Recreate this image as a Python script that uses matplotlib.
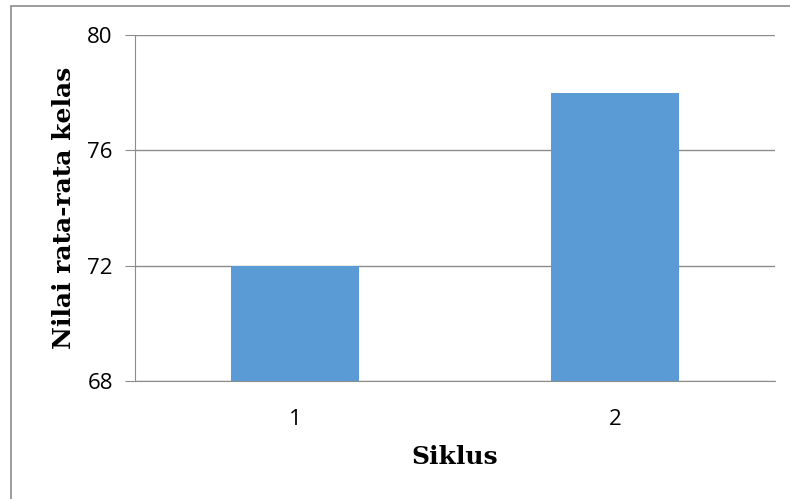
import matplotlib.pyplot as plt
from matplotlib.patches import Rectangle

siklus = ["1", "2"]
nilai = [72, 78]
yticks = [68, 72, 76, 80]

fig = plt.figure(figsize=(7.9, 4.99), dpi=100)
ax = fig.add_axes([0.1709, 0.2365, 0.8101, 0.6934])

x = range(len(siklus))
ax.bar(x, nilai, width=0.4, color="#5B9BD5", zorder=3)
ax.set_xlim(-0.5, 1.5)
ax.set_ylim(68, 80)
ax.set_yticks(yticks)
ax.set_xticks(list(x))
ax.set_xticklabels(siklus)

ax.grid(axis="y", color="#8c8c8c", linewidth=1, zorder=0)
for s in ["top", "right"]:
    ax.spines[s].set_visible(False)
for s in ["left", "bottom"]:
    ax.spines[s].set_color("#8c8c8c")
ax.tick_params(axis="y", length=7, color="#8c8c8c", labelsize=16, pad=9)
ax.tick_params(axis="x", length=0, labelsize=16, pad=20)
for lab in ax.get_xticklabels() + ax.get_yticklabels():
    lab.set_fontfamily("Open Sans")

ax.set_xlabel("Siklus", fontfamily="DejaVu Serif", fontweight="bold", fontsize=18, labelpad=11)
ax.set_ylabel("Nilai rata-rata kelas", fontfamily="DejaVu Serif", fontweight="bold", fontsize=18, labelpad=8)

fig.patches.append(Rectangle((11 / 790, -0.1), 1.2, 1.1 - 6 / 499, transform=fig.transFigure,
                             fill=False, edgecolor="#8c8c8c", linewidth=1.2))

fig.savefig("out.png", dpi=100)
